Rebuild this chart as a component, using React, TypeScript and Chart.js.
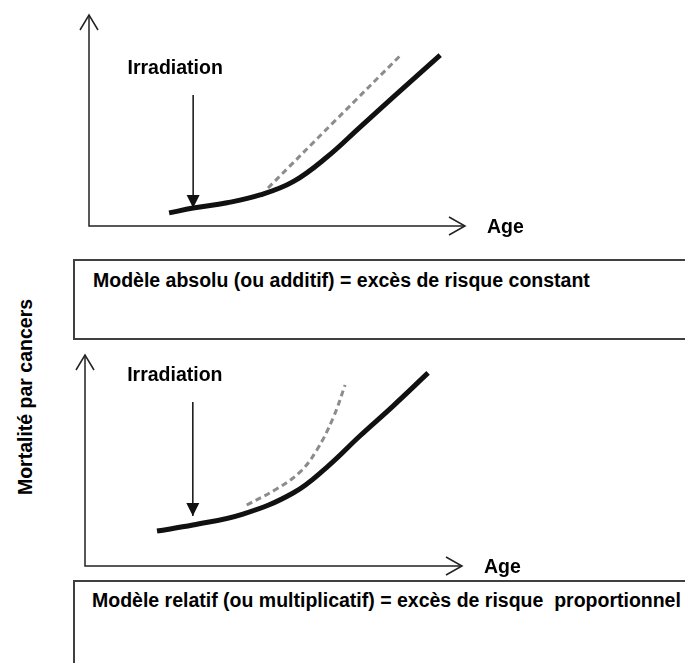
import React, { useEffect, useRef } from "react";
import { Chart, registerables } from "chart.js";

Chart.register(...registerables);

// ---- data (age 0..100, mortality 0..100, arbitrary units) ----
const topSolidAge = [21.3, 27.7, 36.7, 45.5, 54.3, 63.3, 72.1, 80.9, 93.4];
const topSolidRate = [6.2, 8.5, 11.0, 14.7, 21.0, 32.7, 46.9, 61.1, 81.0];
const topDashAge = [47.6, 65.4, 83.2];
const topDashRate = [18.0, 49.8, 81.5];
const topArrowAge = [27.7, 27.7];
const topArrowRate = [62.1, 8.5];

const botSolidAge = [19.1, 28.6, 41.9, 55.2, 64.2, 72.9, 81.7, 91.0];
const botSolidRate = [16.6, 19.4, 24.6, 34.6, 46.9, 61.6, 75.8, 91.5];
const botDashAge = [42.9, 50.8, 57.0, 61.5, 65.8, 69.0];
const botDashRate = [28.9, 36.5, 44.5, 55.0, 70.1, 85.8];
const botArrowAge = [28.6, 28.6];
const botArrowRate = [77.7, 23.7];

const axisLabel = "Age";
const eventLabel = "Irradiation";
const yTitle = "Mortalité par cancers";
const topCaption = "Modèle absolu (ou additif) = excès de risque constant";
const botCaption = "Modèle relatif (ou multiplicatif) = excès de risque  proportionnel";

const FONT = '"Liberation Sans", Arial, Helvetica, sans-serif';

const toPoints = (xs: number[], ys: number[]) => xs.map((x, i) => ({ x, y: ys[i] }));

const decorPlugin = {
  id: "decor",
  afterDraw(chart: any) {
    const ctx = chart.ctx as CanvasRenderingContext2D;
    const xs = chart.scales.x;
    const ys = chart.scales.y;
    const x0 = xs.getPixelForValue(xs.min);
    const x1 = xs.getPixelForValue(xs.max);
    const y0 = ys.getPixelForValue(ys.min);
    const y1 = ys.getPixelForValue(ys.max);
    ctx.save();
    ctx.strokeStyle = "#222";
    ctx.lineWidth = 1.5;
    ctx.lineCap = "butt";
    ctx.beginPath();
    ctx.moveTo(x0, y1);
    ctx.lineTo(x0, y0);
    ctx.lineTo(x1, y0);
    ctx.stroke();
    // chevrons
    ctx.beginPath();
    ctx.moveTo(x0 - 9, y1 + 15);
    ctx.lineTo(x0, y1);
    ctx.lineTo(x0 + 9, y1 + 15);
    ctx.moveTo(x1 - 16, y0 - 9);
    ctx.lineTo(x1, y0);
    ctx.lineTo(x1 - 16, y0 + 9);
    ctx.stroke();

    // arrowhead on the irradiation arrow (dataset index 2)
    const meta = chart.getDatasetMeta(2);
    const pts = meta.data;
    const start = pts[0];
    const tip = pts[pts.length - 1];
    ctx.fillStyle = "#111";
    ctx.beginPath();
    ctx.moveTo(tip.x, tip.y);
    ctx.lineTo(tip.x - 6.5, tip.y - 13);
    ctx.lineTo(tip.x + 6.5, tip.y - 13);
    ctx.closePath();
    ctx.fill();

    // texts
    ctx.fillStyle = "#000";
    ctx.font = `bold 19.5px ${FONT}`;
    ctx.textBaseline = "alphabetic";
    ctx.textAlign = "center";
    ctx.fillText(eventLabel, start.x - 18, start.y - 21);
    ctx.textAlign = "left";
    ctx.fillText(axisLabel, x1 + 22, y0 + 7);
    ctx.restore();
  },
};

type PanelProps = {
  top: number;
  height: number;
  padLeft: number;
  padRight: number;
  padTop: number;
  padBottom: number;
  solidAge: number[];
  solidRate: number[];
  dashAge: number[];
  dashRate: number[];
  arrowAge: number[];
  arrowRate: number[];
};

function Panel(p: PanelProps) {
  const ref = useRef<HTMLCanvasElement | null>(null);
  useEffect(() => {
    if (!ref.current) return;
    const chart = new Chart(ref.current, {
      type: "line",
      data: {
        datasets: [
          {
            data: toPoints(p.dashAge, p.dashRate),
            borderColor: "#8c8c8c",
            borderWidth: 3,
            borderDash: [6, 4],
            pointRadius: 0,
            tension: 0.4,
            fill: false,
          },
          {
            data: toPoints(p.solidAge, p.solidRate),
            borderColor: "#111",
            borderWidth: 5,
            pointRadius: 0,
            tension: 0.4,
            borderCapStyle: "butt",
            fill: false,
          },
          {
            data: toPoints(p.arrowAge, p.arrowRate),
            borderColor: "#111",
            borderWidth: 1.5,
            pointRadius: 0,
            fill: false,
          },
        ],
      },
      options: {
        animation: false,
        responsive: false,
        events: [],
        layout: {
          padding: { left: p.padLeft, right: p.padRight, top: p.padTop, bottom: p.padBottom },
        },
        plugins: { legend: { display: false }, tooltip: { enabled: false }, title: { display: false } },
        scales: {
          x: { type: "linear", min: 0, max: 100, display: false },
          y: { type: "linear", min: 0, max: 100, display: false },
        },
      } as any,
      plugins: [decorPlugin],
    } as any);
    return () => chart.destroy();
  }, []);
  return (
    <canvas
      ref={ref}
      width={685}
      height={p.height}
      style={{ position: "absolute", left: 0, top: p.top, width: 685, height: p.height }}
    />
  );
}

const captionStyle: React.CSSProperties = {
  position: "absolute",
  fontFamily: FONT,
  fontWeight: "bold",
  fontSize: "19.5px",
  lineHeight: "20px",
  whiteSpace: "pre",
  color: "#000",
};

export default function App() {
  return (
    <div
      style={{
        position: "absolute",
        left: 0,
        top: 0,
        width: 685,
        height: 663,
        overflow: "hidden",
        background: "#fff",
      }}
    >
      <div
        style={{
          position: "absolute",
          left: 73,
          top: 259,
          width: 700,
          height: 81,
          border: "2px solid #404040",
          boxSizing: "border-box",
        }}
      />
      <div
        style={{
          position: "absolute",
          left: 73,
          top: 580,
          width: 700,
          height: 200,
          border: "2px solid #404040",
          boxSizing: "border-box",
        }}
      />
      <div style={{ ...captionStyle, left: 93, top: 270 }}>{topCaption}</div>
      <div style={{ ...captionStyle, left: 92, top: 590 }}>{botCaption}</div>
      <div
        style={{
          ...captionStyle,
          left: 25 - 120,
          top: 396.5 - 10,
          width: 240,
          height: 20,
          textAlign: "center",
          transform: "rotate(-90deg)",
          transformOrigin: "50% 50%",
        }}
      >
        {yTitle}
      </div>
      <Panel
        top={0}
        height={250}
        padLeft={89}
        padRight={220}
        padTop={15}
        padBottom={24}
        solidAge={topSolidAge}
        solidRate={topSolidRate}
        dashAge={topDashAge}
        dashRate={topDashRate}
        arrowAge={topArrowAge}
        arrowRate={topArrowRate}
      />
      <Panel
        top={340}
        height={240}
        padLeft={85}
        padRight={223}
        padTop={15}
        padBottom={14}
        solidAge={botSolidAge}
        solidRate={botSolidRate}
        dashAge={botDashAge}
        dashRate={botDashRate}
        arrowAge={botArrowAge}
        arrowRate={botArrowRate}
      />
    </div>
  );
}
